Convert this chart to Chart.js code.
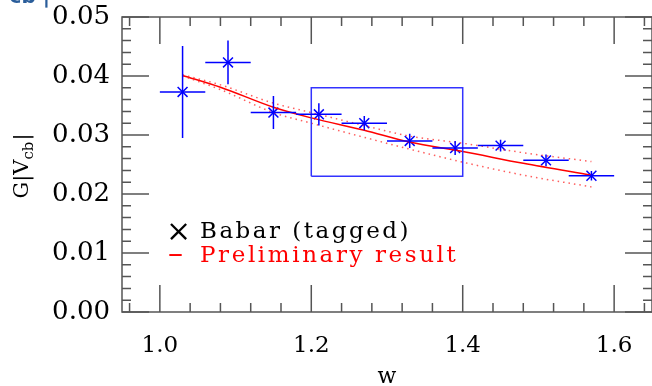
<!DOCTYPE html>
<html>
<head>
<meta charset="utf-8">
<script src="https://cdn.jsdelivr.net/npm/chart.js@4/dist/chart.umd.min.js"></script>
<style>
  html, body { margin: 0; padding: 0; background: #fff; }
  #wrap { width: 652px; height: 386px; }
</style>
</head>
<body>
<div id="wrap"><canvas id="chart" width="652" height="386"></canvas></div>
<script>
// Babar (tagged) measurements
const w = [1.03, 1.09, 1.15, 1.21, 1.27, 1.33, 1.39, 1.45, 1.51, 1.57];
const gv = [0.0373, 0.0423, 0.0338, 0.0335, 0.0320, 0.0290, 0.0278, 0.0282, 0.0257, 0.0231];
const wErr = [0.03, 0.03, 0.03, 0.03, 0.03, 0.03, 0.03, 0.03, 0.03, 0.03];
const gvErr = [0.0078, 0.0037, 0.0028, 0.0019, 0.0012, 0.0012, 0.0012, 0.0010, 0.0010, 0.0008];

// Preliminary result and its band
const fitW = [1.03, 1.08, 1.15, 1.20, 1.27, 1.33, 1.40, 1.48, 1.57];
const fitG = [0.0401, 0.0381, 0.0347, 0.0329, 0.0308, 0.0288, 0.0272, 0.0252, 0.0232];
const fitUp = [0.0402, 0.0385, 0.0354, 0.0338, 0.0316, 0.0298, 0.0286, 0.0270, 0.0255];
const fitLo = [0.0400, 0.0377, 0.0338, 0.0320, 0.0296, 0.0276, 0.0254, 0.0232, 0.0212];

// box
const boxW = [1.2, 1.2, 1.4, 1.4, 1.2];
const boxG = [0.023, 0.038, 0.038, 0.023, 0.023];

// ticks
const xTicks = [1.0, 1.2, 1.4, 1.6];
const yTicks = [0.00, 0.01, 0.02, 0.03, 0.04, 0.05];

const FONT = 'DejaVu Serif';
const AXIS = '#555';

function pts(xs, ys) {
    return xs.map((x, i) => ({ x: x, y: ys[i] }));
}

// draw text one char at a time with extra spacing (wide plotting font)
function spacedText(ctx, str, x, y, gap) {
    for (const ch of str) {
        ctx.fillText(ch, x, y);
        x += ctx.measureText(ch).width + gap;
    }
}

// error bars for the data points
const errorBars = {
    id: 'errorBars',
    afterDatasetsDraw(chart) {
        const ctx = chart.ctx;
        const xs = chart.scales.x, ys = chart.scales.y;
        ctx.save();
        ctx.strokeStyle = '#0000ff';
        ctx.lineWidth = 1.5;
        w.forEach((x, i) => {
            const px = xs.getPixelForValue(x), py = ys.getPixelForValue(gv[i]);
            ctx.beginPath();
            ctx.moveTo(xs.getPixelForValue(x - wErr[i]), py);
            ctx.lineTo(xs.getPixelForValue(x + wErr[i]), py);
            ctx.moveTo(px, ys.getPixelForValue(gv[i] - gvErr[i]));
            ctx.lineTo(px, ys.getPixelForValue(gv[i] + gvErr[i]));
            ctx.stroke();
        });
        ctx.restore();
    }
};

// frame, inward ticks on all sides, titles and legend
const frame = {
    id: 'frame',
    afterDraw(chart) {
        const ctx = chart.ctx;
        const a = chart.chartArea;
        const xs = chart.scales.x, ys = chart.scales.y;
        ctx.save();
        ctx.strokeStyle = AXIS;
        ctx.lineWidth = 1.5;
        ctx.strokeRect(a.left, a.top, a.right - a.left, a.bottom - a.top);
        ctx.beginPath();
        // x ticks, minor every 0.04
        for (let k = 0; k <= 17; k++) {
            const v = 0.96 + k * 0.04;
            if (v > 1.65) break;
            const major = Math.abs(((v - 1.0) / 0.2) - Math.round((v - 1.0) / 0.2)) < 1e-6;
            const len = major ? 27 : 9;
            const px = xs.getPixelForValue(v);
            ctx.moveTo(px, a.bottom); ctx.lineTo(px, a.bottom - len);
            ctx.moveTo(px, a.top); ctx.lineTo(px, a.top + len);
        }
        // y ticks, minor every 0.002
        for (let k = 0; k <= 25; k++) {
            const v = k * 0.002;
            const len = (k % 5 === 0) ? 27 : 9;
            const py = ys.getPixelForValue(v);
            ctx.moveTo(a.left, py); ctx.lineTo(a.left + len, py);
            ctx.moveTo(a.right, py); ctx.lineTo(a.right - len, py);
        }
        ctx.stroke();

        // x title
        ctx.fillStyle = '#000';
        ctx.textAlign = 'center';
        ctx.textBaseline = 'alphabetic';
        ctx.font = '22px "' + FONT + '"';
        ctx.fillText('w', (a.left + a.right) / 2, 383);

        // y title G|V_cb|
        ctx.save();
        ctx.translate(28, (a.top + a.bottom) / 2 + 2);
        ctx.rotate(-Math.PI / 2);
        ctx.textAlign = 'left';
        const mainFont = '21px "' + FONT + '"';
        const subFont = '15px "' + FONT + '"';
        ctx.font = mainFont;
        const w1 = ctx.measureText('G|V').width;
        ctx.font = subFont;
        const w2 = ctx.measureText('cb').width;
        ctx.font = mainFont;
        const w3 = ctx.measureText('|').width;
        let x0 = -(w1 + w2 + w3) / 2;
        ctx.fillText('G|V', x0, 0);
        ctx.font = subFont;
        ctx.fillText('cb', x0 + w1, 5);
        ctx.font = mainFont;
        ctx.fillText('|', x0 + w1 + w2 + 1, 0);
        ctx.restore();

        // legend
        ctx.textAlign = 'left';
        ctx.font = '30px "' + FONT + '"';
        ctx.fillStyle = '#000';
        ctx.fillText('\u00d7', 166, 241);
        ctx.fillStyle = '#ff0000';
        ctx.fillText('\u2013', 168, 263);
        ctx.font = '23px "' + FONT + '"';
        ctx.fillStyle = '#000';
        spacedText(ctx, 'Babar (tagged)', 200, 238, 2.5);
        ctx.fillStyle = '#ff0000';
        spacedText(ctx, 'Preliminary result', 200, 262, 2.6);

        // cut-off fragment at the top left
        ctx.fillStyle = '#2a5d9a';
        ctx.font = 'bold 20px "DejaVu Sans"';
        ctx.textAlign = 'right';
        ctx.fillText('cb |', 50, 3);
        ctx.restore();
    }
};

const ctx = document.getElementById('chart').getContext('2d');
const chart = new Chart(ctx, {
    type: 'scatter',
    data: {
        datasets: [
            {
                label: 'box',
                data: pts(boxW, boxG),
                showLine: true,
                borderColor: '#3333ff',
                borderWidth: 1.5,
                pointRadius: 0,
                fill: false
            },
            {
                label: 'upper',
                data: pts(fitW, fitUp),
                showLine: true,
                borderColor: 'rgba(255,40,40,0.75)',
                borderWidth: 1.5,
                borderDash: [1.5, 4],
                cubicInterpolationMode: 'monotone',
                pointRadius: 0
            },
            {
                label: 'lower',
                data: pts(fitW, fitLo),
                showLine: true,
                borderColor: 'rgba(255,40,40,0.75)',
                borderWidth: 1.5,
                borderDash: [1.5, 4],
                cubicInterpolationMode: 'monotone',
                pointRadius: 0
            },
            {
                label: 'Preliminary result',
                data: pts(fitW, fitG),
                showLine: true,
                borderColor: '#ff0000',
                borderWidth: 1.5,
                cubicInterpolationMode: 'monotone',
                pointRadius: 0
            },
            {
                label: 'Babar (tagged)',
                data: pts(w, gv),
                showLine: false,
                pointStyle: 'crossRot',
                pointRadius: 7,
                borderColor: '#0000ff',
                backgroundColor: '#0000ff',
                pointBorderWidth: 1.5
            }
        ]
    },
    options: {
        responsive: false,
        animation: false,
        events: [],
        layout: { autoPadding: false, padding: { top: 17, right: 0, left: 0, bottom: 0 } },
        plugins: { legend: { display: false }, tooltip: { enabled: false } },
        scales: {
            x: {
                type: 'linear',
                min: 0.95,
                max: 1.65,
                grid: { display: false, drawTicks: false },
                border: { display: false },
                afterBuildTicks: s => { s.ticks = xTicks.map(v => ({ value: v })); },
                afterFit: s => { s.height = 74; s.paddingLeft = 0; s.paddingRight = 0; },
                ticks: {
                    padding: 20,
                    color: '#000',
                    font: { family: FONT, size: 23 },
                    callback: v => Number(v).toFixed(1)
                }
            },
            y: {
                type: 'linear',
                min: 0,
                max: 0.05,
                grid: { display: false, drawTicks: false },
                border: { display: false },
                afterBuildTicks: s => { s.ticks = yTicks.map(v => ({ value: v })); },
                afterFit: s => { s.width = 122; s.paddingTop = 0; s.paddingBottom = 0; },
                ticks: {
                    padding: 12,
                    color: '#000',
                    font: { family: FONT, size: 26 },
                    callback: v => Number(v).toFixed(2)
                }
            }
        }
    },
    plugins: [errorBars, frame]
});
</script>
</body>
</html>
